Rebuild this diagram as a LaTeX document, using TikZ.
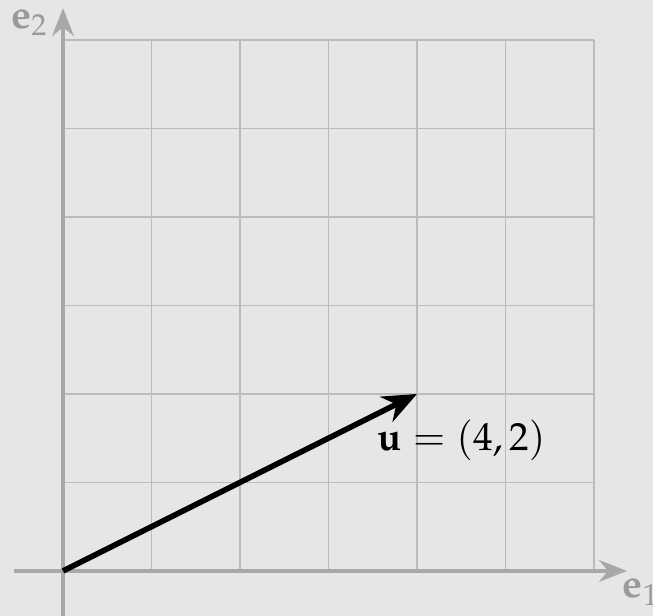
\documentclass[tikz,border=0pt]{standalone}
\usepackage{mathpazo}
\usetikzlibrary{arrows.meta}
\definecolor{bg}{HTML}{E6E6E6}
\definecolor{gridc}{HTML}{BBBBBB}
\definecolor{axisc}{HTML}{A8A8A8}
\definecolor{labc}{HTML}{9A9A9A}
\tikzset{
  gridline/.style={draw=gridc, line width=0.6pt},
  axisline/.style={draw=axisc, line width=1.3pt, -{Stealth[length=9pt,width=7pt]}},
  vecline/.style={draw=black, line width=1.8pt, -{Stealth[length=11pt,width=9pt]}},
  axislabel/.style={text=labc, font=\fontsize{12.8}{15}\selectfont, inner sep=0pt},
  veclabel/.style={text=black, font=\fontsize{12.6}{15}\selectfont, inner sep=0pt}
}
\begin{document}
\begin{tikzpicture}
\fill[bg] (-0.712,-0.508) rectangle (6.667,6.452);
\useasboundingbox (-0.712,-0.508) rectangle (6.667,6.452);
\draw[gridline] (0,0) grid (6,6);
\coordinate (xs) at (-0.554,0);
\coordinate (xe) at (6.373,0);
\coordinate (ys) at (0,-0.52);
\coordinate (ye) at (0,6.36);
\draw[axisline] (xs) -- (xe);
\draw[axisline] (ys) -- (ye);
\coordinate (O) at (0,0);
\coordinate (U) at (4,2);
\draw[vecline] (O) -- (U);
\node[veclabel] (ul) at (4.5,1.48) {$\mathbf{u}=(4,2)$};
\node[axislabel] (e2) at (-0.38,6.2) {$\mathbf{e}_2$};
\node[axislabel, anchor=west] (e1) at (6.31,-0.24) {$\mathbf{e}_1$};
\end{tikzpicture}
\end{document}
